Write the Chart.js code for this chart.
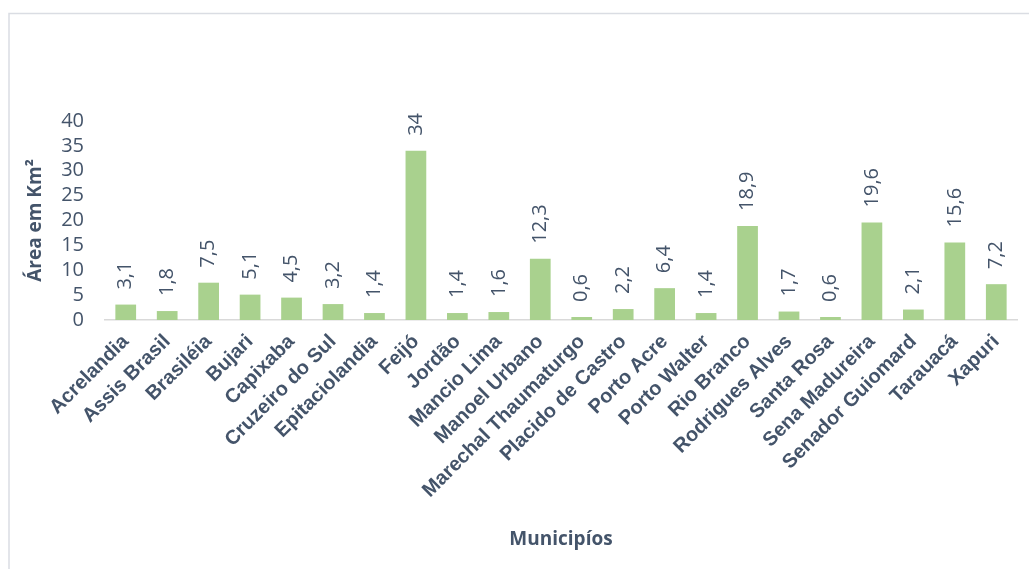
<!DOCTYPE html>
<html>
<head>
<meta charset="utf-8">
<script src="https://cdn.jsdelivr.net/npm/chart.js@4/dist/chart.umd.min.js"></script>
<style>
  html, body { margin: 0; padding: 0; background: #fff; }
  #wrap { width: 1029px; height: 569px; position: relative; }
</style>
</head>
<body>
<div id="wrap"><canvas id="grafico" width="1029" height="569"></canvas></div>
<script>
var municipios = ['Acrelandia', 'Assis Brasil', 'Brasiléia', 'Bujari', 'Capixaba', 'Cruzeiro do Sul',
  'Epitaciolandia', 'Feijó', 'Jordão', 'Mancio Lima', 'Manoel Urbano', 'Marechal Thaumaturgo',
  'Placido de Castro', 'Porto Acre', 'Porto Walter', 'Rio Branco', 'Rodrigues Alves', 'Santa Rosa',
  'Sena Madureira', 'Senador Guiomard', 'Tarauacá', 'Xapuri'];
var areas = [3.1, 1.8, 7.5, 5.1, 4.5, 3.2, 1.4, 34, 1.4, 1.6, 12.3, 0.6, 2.2, 6.4, 1.4, 18.9, 1.7, 0.6, 19.6, 2.1, 15.6, 7.2];
var yTicks = [0, 5, 10, 15, 20, 25, 30, 35, 40];

var corTexto = '#44546a';

// moldura (linha de cima e da esquerda)
var moldura = {
  id: 'moldura',
  beforeDraw: function (chart) {
    var ctx = chart.ctx;
    ctx.save();
    ctx.strokeStyle = '#dadde3';
    ctx.lineWidth = 1.5;
    ctx.beginPath();
    ctx.moveTo(9, 569);
    ctx.lineTo(9, 13.5);
    ctx.lineTo(1029, 13.5);
    ctx.stroke();
    ctx.restore();
  }
};

// rotulos de dados girados
var rotulos = {
  id: 'rotulos',
  afterDatasetsDraw: function (chart) {
    var ctx = chart.ctx;
    var meta = chart.getDatasetMeta(0);
    ctx.save();
    ctx.fillStyle = corTexto;
    ctx.font = '20px "Open Sans"';
    ctx.textAlign = 'left';
    ctx.textBaseline = 'middle';
    meta.data.forEach(function (bar, i) {
      var txt = String(areas[i]).replace('.', ',');
      ctx.save();
      ctx.translate(bar.x, bar.y - 15);
      ctx.rotate(-Math.PI / 2);
      ctx.fillText(txt, 0, 0);
      ctx.restore();
    });
    ctx.restore();
  }
};

var ctx = document.getElementById('grafico').getContext('2d');
var grafico = new Chart(ctx, {
  type: 'bar',
  data: {
    labels: municipios,
    datasets: [{
      data: areas,
      backgroundColor: '#a9d18e',
      categoryPercentage: 1,
      barPercentage: 0.5
    }]
  },
  options: {
    responsive: false,
    animation: false,
    layout: { padding: { left: 20, right: 12, top: 121, bottom: 14 } },
    plugins: {
      legend: { display: false },
      tooltip: { enabled: false }
    },
    scales: {
      x: {
        grid: { display: false },
        border: { display: true, color: '#d9d9d9', width: 1.5 },
        ticks: {
          color: corTexto,
          font: { family: 'Liberation Sans', size: 20, weight: 'bold' },
          minRotation: 45,
          maxRotation: 45,
          autoSkip: false,
          padding: 2
        },
        title: {
          display: true,
          text: 'Municipíos',
          color: corTexto,
          font: { family: 'Open Sans', size: 19, weight: 'bold' }
        },
        afterFit: function (scale) { scale.height = 569 - 14 - 320; }
      },
      y: {
        min: 0,
        max: 40,
        grid: { display: false, drawTicks: false },
        border: { display: false },
        afterBuildTicks: function (scale) {
          scale.ticks = yTicks.map(function (v) { return { value: v }; });
        },
        ticks: {
          color: corTexto,
          font: { family: 'Open Sans', size: 20 },
          padding: 21,
          autoSkip: false
        },
        title: {
          display: true,
          text: 'Área em Km²',
          color: corTexto,
          font: { family: 'Open Sans', size: 19, weight: 'bold' }
        },
        afterFit: function (scale) { scale.width = 105 - 20; }
      }
    }
  },
  plugins: [moldura, rotulos]
});
</script>
</body>
</html>
